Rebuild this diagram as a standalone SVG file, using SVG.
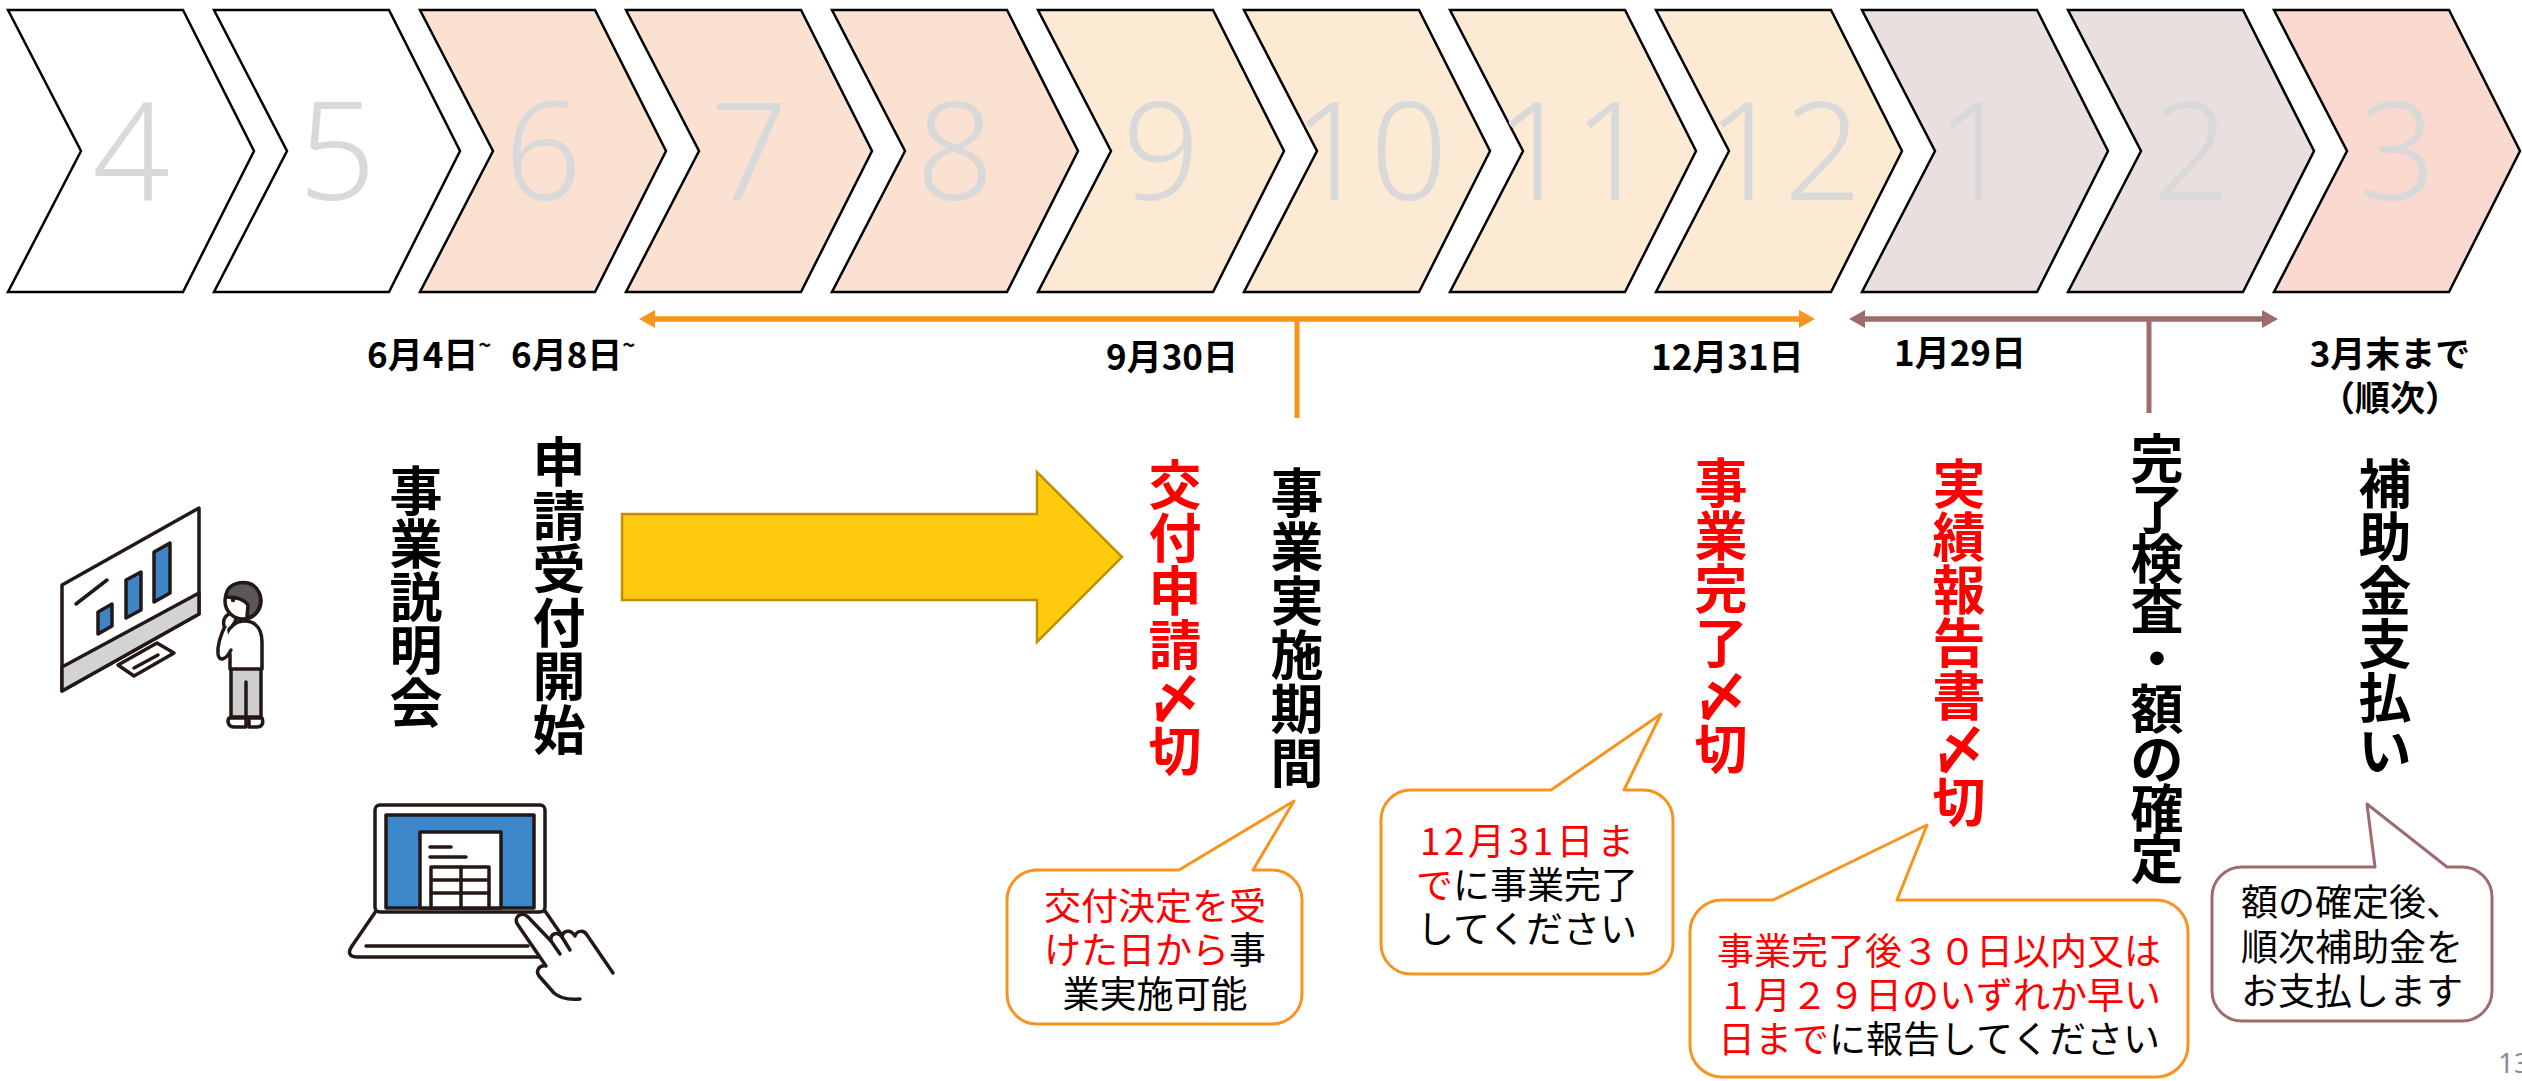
<svg xmlns="http://www.w3.org/2000/svg" xmlns:xlink="http://www.w3.org/1999/xlink" width="2522" height="1081" viewBox="0 0 2522 1081">
  <style>
    .chev{stroke:#000;stroke-width:2.5;stroke-linejoin:miter}
    .c-white{fill:#FFFFFF}
    .c-peach{fill:#FAE1D2}
    .c-orange{fill:#FDEAD4}
    .c-mauve{fill:#EADFDF}
    .c-pink{fill:#FAD9D1}
    .mon{font-family:"Noto Sans","Open Sans",sans-serif;font-size:136px;font-weight:300;fill:#D9D9D9;text-anchor:middle}
    .date{font-family:"Noto Sans CJK JP","Noto Sans",sans-serif;font-size:35px;font-weight:700;fill:#000}
    .vl{font-family:"Noto Sans CJK JP",sans-serif;font-size:53px;font-weight:700;text-anchor:middle;fill:#000}
    .red{fill:#FF0000}
    .ct{font-family:"Noto Sans CJK JP",sans-serif;font-size:37px;text-anchor:middle;fill:#000}
    .bub-o{fill:#FFFFFF;stroke:#F7941D;stroke-width:3;stroke-linejoin:round}
    .bub-m{fill:#FFFFFF;stroke:#9E6C6C;stroke-width:3;stroke-linejoin:round}
    .ln-o{stroke:#F7941D;fill:none}
    .ln-m{stroke:#9E6C6C;fill:none}
    .ink{stroke:#231815;stroke-width:3.5;stroke-linejoin:round;stroke-linecap:round}
    .pg{font-family:"Noto Sans","Liberation Sans",sans-serif;font-size:28px;fill:#8C8C8C}
  </style>
  <defs>
    <polygon id="chev" points="0,10 175,10 246,151 175,292 0,292 73,151"/>
    <marker id="head-o" markerUnits="userSpaceOnUse" markerWidth="16" markerHeight="18" viewBox="0 0 16 18" refX="6" refY="9" orient="auto-start-reverse">
      <path d="M0,0 L16,9 L0,18 Z" fill="#F7941D"/>
    </marker>
    <marker id="head-m" markerUnits="userSpaceOnUse" markerWidth="16" markerHeight="18" viewBox="0 0 16 18" refX="6" refY="9" orient="auto-start-reverse">
      <path d="M0,0 L16,9 L0,18 Z" fill="#9E6C6C"/>
    </marker>
  </defs>

  <!-- month chevrons -->
  <g id="m04"><use xlink:href="#chev" href="#chev" x="8" class="chev c-white"/><text class="mon" x="131" y="200">4</text></g>
  <g id="m05"><use xlink:href="#chev" href="#chev" x="214" class="chev c-white"/><text class="mon" x="337" y="200">5</text></g>
  <g id="m06"><use xlink:href="#chev" href="#chev" x="420" class="chev c-peach"/><text class="mon" x="543" y="200">6</text></g>
  <g id="m07"><use xlink:href="#chev" href="#chev" x="626" class="chev c-peach"/><text class="mon" x="749" y="200">7</text></g>
  <g id="m08"><use xlink:href="#chev" href="#chev" x="832" class="chev c-peach"/><text class="mon" x="955" y="200">8</text></g>
  <g id="m09"><use xlink:href="#chev" href="#chev" x="1038" class="chev c-orange"/><text class="mon" x="1161" y="200">9</text></g>
  <g id="m10"><use xlink:href="#chev" href="#chev" x="1244" class="chev c-orange"/><text class="mon" x="1370" y="200">10</text></g>
  <g id="m11"><use xlink:href="#chev" href="#chev" x="1450" class="chev c-orange"/><text class="mon" x="1573" y="200">11</text></g>
  <g id="m12"><use xlink:href="#chev" href="#chev" x="1656" class="chev c-orange"/><text class="mon" x="1784" y="200">12</text></g>
  <g id="m01"><use xlink:href="#chev" href="#chev" x="1862" class="chev c-mauve"/><text class="mon" x="1975" y="200">1</text></g>
  <g id="m02"><use xlink:href="#chev" href="#chev" x="2068" class="chev c-mauve"/><text class="mon" x="2191" y="200">2</text></g>
  <g id="m03"><use xlink:href="#chev" href="#chev" x="2274" class="chev c-pink"/><text class="mon" x="2397" y="200">3</text></g>

  <!-- period arrows, ticks and the flow arrow -->
  <g id="connectors">
    <line class="ln-o" x1="649" y1="319" x2="1805" y2="319" stroke-width="5.5" marker-start="url(#head-o)" marker-end="url(#head-o)"/>
    <line class="ln-o" x1="1297" y1="319" x2="1297" y2="418" stroke-width="5"/>
    <line class="ln-m" x1="1859" y1="319" x2="2268" y2="319" stroke-width="5.5" marker-start="url(#head-m)" marker-end="url(#head-m)"/>
    <line class="ln-m" x1="2149" y1="319" x2="2149" y2="413" stroke-width="5"/>
    <polygon id="flow-arrow" points="622,514 1037,514 1037,472 1122,557 1037,642 1037,600 622,600" fill="#FFC90E" stroke="#BF9000" stroke-width="2.5"/>
  </g>

  <!-- dates -->
  <g id="dates">
    <text class="date" x="367" y="368">6月4日<tspan font-size="22" dy="-15">~</tspan></text>
    <text class="date" x="511" y="368">6月8日<tspan font-size="22" dy="-15">~</tspan></text>
    <text class="date" x="1106" y="370">9月30日</text>
    <text class="date" x="1651" y="370">12月31日</text>
    <text class="date" x="1894" y="366">1月29日</text>
    <text class="date" x="2390" y="367" text-anchor="middle">3月末まで</text>
    <text class="date" x="2390" y="411" text-anchor="middle">（順次）</text>
  </g>

  <!-- vertical step labels, one glyph per row -->
  <g id="briefing">
    <text class="vl"><tspan x="416" y="511">事</tspan><tspan x="416" y="564">業</tspan><tspan x="416" y="617">説</tspan><tspan x="416" y="670">明</tspan><tspan x="416" y="723">会</tspan></text>
  </g>
  <g id="reception">
    <text class="vl"><tspan x="559" y="482">申</tspan><tspan x="559" y="536">請</tspan><tspan x="559" y="589">受</tspan><tspan x="559" y="643">付</tspan><tspan x="559" y="696">開</tspan><tspan x="559" y="750">始</tspan></text>
  </g>
  <g id="application-deadline">
    <text class="vl red"><tspan x="1175" y="505">交</tspan><tspan x="1175" y="558">付</tspan><tspan x="1175" y="611">申</tspan><tspan x="1175" y="665">請</tspan><tspan x="1175" y="718">〆</tspan><tspan x="1175" y="771">切</tspan></text>
  </g>
  <g id="project-period">
    <text class="vl"><tspan x="1297" y="513">事</tspan><tspan x="1297" y="567">業</tspan><tspan x="1297" y="621">実</tspan><tspan x="1297" y="675">施</tspan><tspan x="1297" y="729">期</tspan><tspan x="1297" y="783">間</tspan></text>
  </g>
  <g id="completion-deadline">
    <text class="vl red"><tspan x="1721" y="503">事</tspan><tspan x="1721" y="556">業</tspan><tspan x="1721" y="609">完</tspan><tspan x="1721" y="663">了</tspan><tspan x="1721" y="716">〆</tspan><tspan x="1721" y="769">切</tspan></text>
  </g>
  <g id="report-deadline">
    <text class="vl red"><tspan x="1959" y="504">実</tspan><tspan x="1959" y="557">績</tspan><tspan x="1959" y="610">報</tspan><tspan x="1959" y="663">告</tspan><tspan x="1959" y="716">書</tspan><tspan x="1959" y="769">〆</tspan><tspan x="1959" y="822">切</tspan></text>
  </g>
  <g id="inspection">
    <text class="vl"><tspan x="2157" y="479">完</tspan><tspan x="2157" y="529">了</tspan><tspan x="2157" y="579">検</tspan><tspan x="2157" y="629">査</tspan><tspan x="2157" y="679">・</tspan><tspan x="2157" y="729">額</tspan><tspan x="2157" y="779">の</tspan><tspan x="2157" y="829">確</tspan><tspan x="2157" y="879">定</tspan></text>
  </g>
  <g id="payment">
    <text class="vl"><tspan x="2385" y="504">補</tspan><tspan x="2385" y="557">助</tspan><tspan x="2385" y="611">金</tspan><tspan x="2385" y="664">支</tspan><tspan x="2385" y="718">払</tspan><tspan x="2385" y="771">い</tspan></text>
  </g>

  <!-- speech bubbles -->
  <g id="note-grant">
    <path class="bub-o" d="M1037,870 L1179,870 L1294,801 L1253,870 L1272,870 A30,30 0 0 1 1302,900 L1302,994 A30,30 0 0 1 1272,1024 L1037,1024 A30,30 0 0 1 1007,994 L1007,900 A30,30 0 0 1 1037,870 Z"/>
    <text class="ct" x="1155" y="920"><tspan class="red">交付決定を受</tspan></text>
    <text class="ct" x="1155" y="964"><tspan class="red">けた日から</tspan>事</text>
    <text class="ct" x="1155" y="1008">業実施可能</text>
  </g>
  <g id="note-completion">
    <path class="bub-o" d="M1411,790 L1551,790 L1661,714 L1624,790 L1643,790 A30,30 0 0 1 1673,820 L1673,944 A30,30 0 0 1 1643,974 L1411,974 A30,30 0 0 1 1381,944 L1381,820 A30,30 0 0 1 1411,790 Z"/>
    <text class="ct" x="1527" y="855" textLength="214"><tspan class="red">12月31日ま</tspan></text>
    <text class="ct" x="1527" y="899"><tspan class="red">で</tspan>に事業完了</text>
    <text class="ct" x="1527" y="943">してください</text>
  </g>
  <g id="note-report">
    <path class="bub-o" d="M1722,900 L1773,900 L1927,825 L1897,900 L2156,900 A32,32 0 0 1 2188,932 L2188,1045 A32,32 0 0 1 2156,1077 L1722,1077 A32,32 0 0 1 1690,1045 L1690,932 A32,32 0 0 1 1722,900 Z"/>
    <text class="ct" x="1939" y="965" font-size="36"><tspan class="red">事業完了後３０日以内又は</tspan></text>
    <text class="ct" x="1939" y="1009" font-size="36"><tspan class="red">１月２９日のいずれか早い</tspan></text>
    <text class="ct" x="1939" y="1053" font-size="36"><tspan class="red">日まで</tspan>に報告してください</text>
  </g>
  <g id="note-payment">
    <path class="bub-m" d="M2242,867 L2375,867 L2367,804 L2447,867 L2462,867 A30,30 0 0 1 2492,897 L2492,991 A30,30 0 0 1 2462,1021 L2242,1021 A30,30 0 0 1 2212,991 L2212,897 A30,30 0 0 1 2242,867 Z"/>
    <text class="ct" x="2352" y="916">額の確定後、</text>
    <text class="ct" x="2352" y="961">順次補助金を</text>
    <text class="ct" x="2352" y="1005">お支払します</text>
  </g>

  <!-- illustration: person looking at a chart on a monitor -->
  <g id="seminar-icon">
    <polygon class="ink" points="62,585 199,508 199,614 62,691" fill="#FFFFFF"/>
    <polygon class="ink" points="62,667 199,593 199,614 62,691" fill="#D3D3D3"/>
    <polygon class="ink" points="118,665 157,643 174,653 134,676" fill="#FFFFFF" stroke-width="3"/>
    <line class="ink" x1="134" y1="668" x2="158" y2="655" stroke-width="2.5"/>
    <line class="ink" x1="76" y1="604" x2="107" y2="580" stroke-width="3"/>
    <polygon class="ink" points="98,612 112,604 112,626 98,634" fill="#3D85C6" stroke-width="2.5"/>
    <polygon class="ink" points="126,580 141,572 141,610 126,618" fill="#3D85C6" stroke-width="2.5"/>
    <polygon class="ink" points="154,552 170,543 170,593 154,602" fill="#3D85C6" stroke-width="2.5"/>
    <rect class="ink" x="231" y="668" width="30" height="49" fill="#CFCFCF" stroke-width="3"/>
    <line class="ink" x1="246" y1="682" x2="246" y2="717" stroke-width="3"/>
    <path class="ink" d="M229,718 L246,718 L246,727 L234,727 C228,727 227,721 229,718 Z" fill="#FFFFFF" stroke-width="3"/>
    <path class="ink" d="M249,718 L262,718 C264,723 262,727 257,727 L249,727 Z" fill="#FFFFFF" stroke-width="3"/>
    <path class="ink" d="M230,669 L230,654 C222,650 222,630 238,622 C252,618 262,626 262,642 L262,669 Z" fill="#FFFFFF" stroke-width="3"/>
    <path class="ink" d="M231,650 C226,660 219,662 218,654 C217,644 222,632 226,624" fill="#FFFFFF" stroke-width="3"/>
    <path class="ink" d="M224,626 C222,618 228,612 234,614 C238,616 236,622 232,626" fill="#FFFFFF" stroke-width="3"/>
    <circle class="ink" cx="243" cy="601" r="18" fill="#FFFFFF" stroke-width="3"/>
    <path class="ink" d="M226,597 C226,585 238,581 248,583 C259,586 263,598 259,608 C256,615 251,618 247,617 L248,605 C244,599 237,597 226,597 Z" fill="#595757" stroke-width="3"/>
    <circle cx="233" cy="600" r="2.2" fill="#231815"/>
  </g>

  <!-- illustration: hand tapping a laptop showing a form -->
  <g id="online-icon">
    <path class="ink" d="M376,911 L352,946 C347,953 350,957 357,957 L565,957 L563,937 L545,911 Z" fill="#FFFFFF"/>
    <line class="ink" x1="366" y1="946" x2="528" y2="946" stroke-width="3"/>
    <rect class="ink" x="375" y="805" width="170" height="107" rx="5" fill="#FFFFFF"/>
    <rect class="ink" x="386" y="815" width="148" height="93" fill="#3C87C9" stroke-width="2.5"/>
    <rect class="ink" x="420" y="832" width="81" height="76" fill="#FFFFFF" stroke-width="2.5"/>
    <line class="ink" x1="430" y1="847" x2="451" y2="847" stroke-width="2.5"/>
    <line class="ink" x1="430" y1="857" x2="466" y2="857" stroke-width="2.5"/>
    <rect class="ink" x="431" y="867" width="58" height="41" fill="#FFFFFF" stroke-width="2.5"/>
    <line class="ink" x1="431" y1="880" x2="489" y2="880" stroke-width="2.5"/>
    <line class="ink" x1="431" y1="893" x2="489" y2="893" stroke-width="2.5"/>
    <line class="ink" x1="461" y1="867" x2="461" y2="908" stroke-width="2.5"/>
    <path class="ink" d="M613,973 L587,935 C584,930 577,930 575,936 C571,929 563,930 562,937 C558,931 550,933 551,941 L528,917 C522,911 512,917 518,925 L546,966 C540,965 535,970 539,976 L554,993 C561,999 570,1000 580,999" fill="#FFFFFF"/>
    <path class="ink" d="M551,941 L560,954 M562,937 L570,950" fill="none" stroke-width="3"/>
  </g>

  <text class="pg" x="2498" y="1073">13</text>
</svg>
